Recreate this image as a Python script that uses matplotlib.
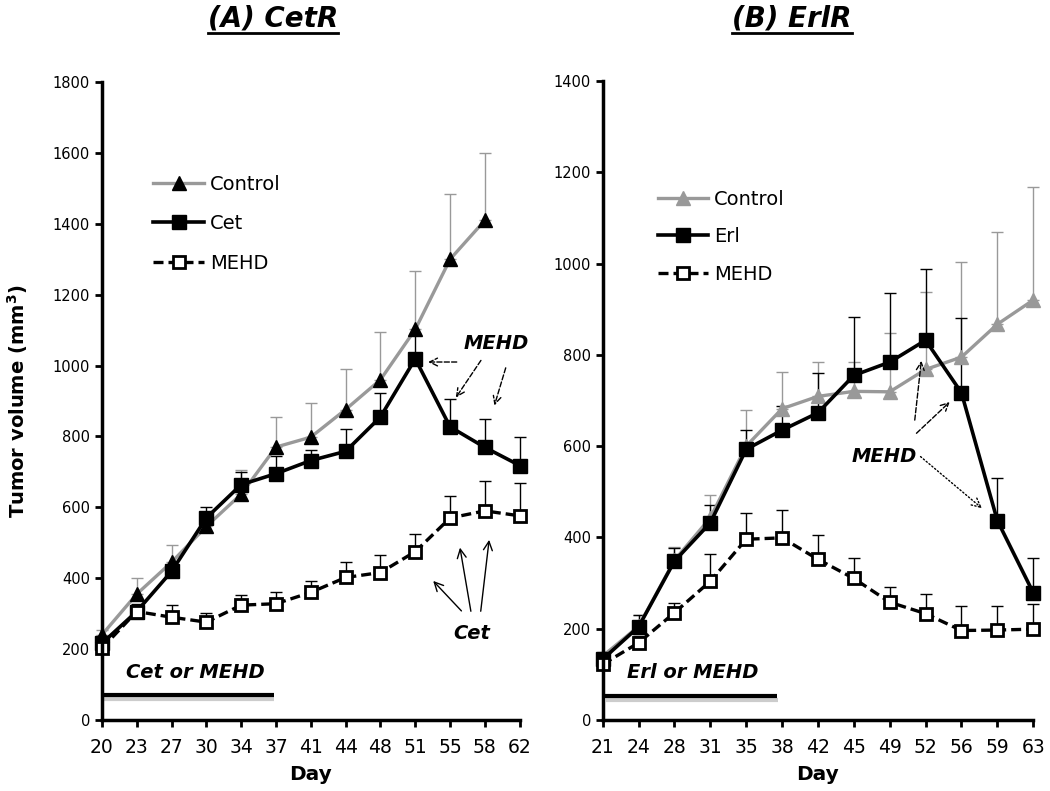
import numpy as np
import matplotlib
matplotlib.use('Agg')
import matplotlib.pyplot as plt

plt.rcParams['font.family'] = ['DejaVu Sans']

# --- (A) CetR ---
days_a = ['20', '23', '27', '30', '34', '37', '41', '44', '48', '51', '55', '58', '62']
ctrl_a = [240, 355, 445, 546, 637, 770, 798, 876, 960, 1102, 1300, 1410, np.nan]
ctrl_a_err = [15, 45, 50, 10, 68, 85, 97, 113, 134, 164, 183, 189, np.nan]
cet_a = [216, 306, 419, 570, 664, 695, 732, 758, 855, 1019, 827, 769, 718]
cet_a_err = [10, 22, 15, 30, 35, 49, 30, 63, 68, 70, 80, 80, 80]
mehd_a = [202, 306, 290, 276, 324, 328, 360, 402, 416, 475, 570, 590, 576]
mehd_a_err = [0, 10, 34, 27, 29, 33, 31, 45, 49, 51, 63, 83, 94]

# --- (B) ErlR ---
days_b = ['21', '24', '28', '31', '35', '38', '42', '45', '49', '52', '56', '59', '63']
ctrl_b = [140, 205, 350, 443, 600, 682, 709, 720, 719, 768, 795, 867, 920]
ctrl_b_err = [10, 25, 28, 51, 80, 81, 76, 65, 128, 169, 208, 202, 247]
erl_b = [133, 204, 348, 432, 593, 635, 673, 755, 784, 832, 717, 437, 279]
erl_b_err = [8, 25, 28, 40, 43, 53, 88, 127, 151, 156, 163, 94, 76]
mehd_b = [122, 169, 235, 304, 396, 399, 352, 310, 258, 233, 196, 197, 199]
mehd_b_err = [5, 15, 22, 60, 58, 60, 53, 44, 33, 44, 54, 53, 55]

GRAY = '#999999'

fig = plt.figure(figsize=(10.5, 7.91), dpi=100)
ax1 = fig.add_axes([0.097, 0.0898, 0.398, 0.8065])
ax2 = fig.add_axes([0.574, 0.0898, 0.410, 0.8078])


def upper(err):
    err = np.array(err, dtype=float)
    return [np.zeros_like(err), err]


def no_clip(cont):
    for a in cont.get_children():
        a.set_clip_on(False)


def draw_panel(ax, days, ctrl, ctrl_err, trt, trt_err, mehd, mehd_err, trt_name, ctrl_marker_col, ymax):
    x = np.arange(len(days))
    no_clip(ax.errorbar(x, ctrl, yerr=upper(ctrl_err), fmt='none', ecolor=GRAY, elinewidth=1, capsize=4, zorder=2))
    no_clip(ax.errorbar(x, trt, yerr=upper(trt_err), fmt='none', ecolor='black', elinewidth=1, capsize=4, zorder=2))
    no_clip(ax.errorbar(x, mehd, yerr=upper(mehd_err), fmt='none', ecolor='black', elinewidth=1, capsize=4, zorder=2))
    ax.plot(x, ctrl, color=GRAY, lw=2.4, marker='^', ms=10, mfc=ctrl_marker_col, mec=ctrl_marker_col,
            label='Control', zorder=3, clip_on=False)
    ax.plot(x, trt, color='black', lw=2.6, marker='s', ms=10.5, label=trt_name, zorder=4, clip_on=False)
    ax.plot(x, mehd, color='black', lw=2.4, ls=(0, (3, 1.5)), marker='s', ms=8.5, mfc='white', mec='black',
            mew=2, label='MEHD', zorder=5, clip_on=False)

    ax.set_xlim(0, len(days) - 1)
    ax.set_ylim(0, ymax)
    ax.set_xticks(x)
    ax.set_xticklabels(days, fontsize=13.5)
    ax.set_yticks(np.arange(0, ymax + 1, 200))
    ax.tick_params(axis='y', labelsize=10.5, width=2, length=5)
    ax.tick_params(axis='x', width=2, length=5, pad=8)
    for s in ['top', 'right']:
        ax.spines[s].set_visible(False)
    for s in ['left', 'bottom']:
        ax.spines[s].set_linewidth(2.5)
    ax.spines['left'].set_zorder(6)
    ax.set_xlabel('Day', fontsize=14.5, fontweight='bold', labelpad=6)


draw_panel(ax1, days_a, ctrl_a, ctrl_a_err, cet_a, cet_a_err, mehd_a, mehd_a_err, 'Cet', 'black', 1800)
draw_panel(ax2, days_b, ctrl_b, ctrl_b_err, erl_b, erl_b_err, mehd_b, mehd_b_err, 'Erl', GRAY, 1400)

ax1.set_ylabel('Tumor volume (mm$^\\mathbf{3}$)', fontsize=14, fontweight='bold', labelpad=16)

ax1.legend(loc='upper left', bbox_to_anchor=(0.1, 0.87), frameon=False, fontsize=14,
           handlelength=2.6, handletextpad=0.3, labelspacing=1.05, borderpad=0)
ax2.legend(loc='upper left', bbox_to_anchor=(0.105, 0.845), frameon=False, fontsize=14,
           handlelength=2.6, handletextpad=0.3, labelspacing=0.95, borderpad=0)

# treatment bars
ax1.plot([0.05, 4.95], [60, 60], color='#cccccc', lw=3, solid_capstyle='butt', zorder=1)
ax1.plot([0, 4.93], [70, 70], color='black', lw=3, solid_capstyle='butt', zorder=2)
ax1.text(2.68, 133, 'Cet or MEHD', fontsize=14, fontweight='bold', style='italic', ha='center', va='center')
ax2.plot([0.1, 4.9], [44, 44], color='#cccccc', lw=3, solid_capstyle='butt', zorder=1)
ax2.plot([0.05, 4.87], [53, 53], color='black', lw=3, solid_capstyle='butt', zorder=2)
ax2.text(2.52, 103, 'Erl or MEHD', fontsize=14, fontweight='bold', style='italic', ha='center', va='center')

# annotations (A)
dash = dict(arrowstyle='->', ls='--', lw=1, color='black', mutation_scale=14)
solid = dict(arrowstyle='->', lw=1, color='black', mutation_scale=16)
ax1.text(11.34, 1063, 'MEHD', fontsize=14, fontweight='bold', style='italic', ha='center', va='center')
ax1.annotate('', xy=(9.29, 1010), xytext=(10.27, 1010), arrowprops=dash)
ax1.annotate('', xy=(10.12, 903), xytext=(10.93, 1021), arrowprops=dash)
ax1.annotate('', xy=(11.25, 880), xytext=(11.62, 1001), arrowprops=dash)
ax1.text(10.61, 245, 'Cet', fontsize=14, fontweight='bold', style='italic', ha='center', va='center')
ax1.annotate('', xy=(9.46, 398), xytext=(10.38, 302), arrowprops=solid)
ax1.annotate('', xy=(10.27, 494), xytext=(10.61, 299), arrowprops=solid)
ax1.annotate('', xy=(11.13, 516), xytext=(10.87, 299), arrowprops=solid)

# annotations (B)
ax2.text(7.85, 578, 'MEHD', fontsize=14, fontweight='bold', style='italic', ha='center', va='center')
ax2.annotate('', xy=(8.89, 793), xytext=(8.69, 651), arrowprops=dash)
ax2.annotate('', xy=(9.73, 701), xytext=(8.69, 624), arrowprops=dash)
ax2.annotate('', xy=(10.63, 460), xytext=(8.80, 581),
             arrowprops=dict(arrowstyle='->', ls=':', lw=1, color='black', mutation_scale=16))

# underlined titles
titles = [('(A) CetR', 273), ('(B) ErlR', 792)]
fig.canvas.draw()
r = fig.canvas.get_renderer()
for txt, xc in titles:
    t = fig.text(xc / 1050, 1 - 18 / 791, txt, fontsize=20, fontweight='bold', style='italic',
                 ha='center', va='center')
    bb = t.get_window_extent(renderer=r)
    yl = bb.y0 - 1
    fig.add_artist(plt.Line2D([bb.x0 / 1050, bb.x1 / 1050], [yl / 791, yl / 791], color='black', lw=2,
                              transform=fig.transFigure))

fig.savefig('out.png', dpi=100)
